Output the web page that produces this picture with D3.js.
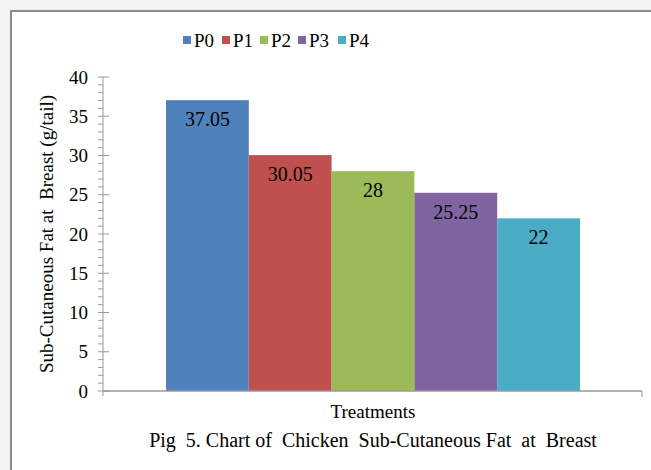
<!DOCTYPE html>
<html><head><meta charset="utf-8">
<script src="https://cdn.jsdelivr.net/npm/d3@7"></script>
<style>body{margin:0;background:#f3f3f3;}svg{display:block;}text{font-family:"Liberation Serif","Times New Roman",serif;fill:#000;}</style>
</head><body>
<svg id="c" width="651" height="470"></svg>
<script>
const categories = ["P0","P1","P2","P3","P4"];
const values = [37.05, 30.05, 28, 25.25, 22];
const valueLabels = ["37.05","30.05","28","25.25","22"];
const colors = ["#4f81bd","#c0504d","#9bbb59","#8064a2","#4bacc6"];
const yTicks = [0,5,10,15,20,25,30,35,40];

const svg = d3.select("#c");
svg.append("rect").attr("x",11).attr("y",11).attr("width",660).attr("height",480)
  .attr("fill","#fff").attr("stroke","#8c8c8c").attr("stroke-width",2);

const x0 = 103, x1 = 642, yTop = 77, yBot = 391;
const y = d3.scaleLinear().domain([0,40]).range([yBot,yTop]);
const band = d3.scaleBand().domain(categories).range([166,580]).paddingInner(0).paddingOuter(0);

// bars
svg.selectAll("rect.bar").data(values).enter().append("rect")
  .attr("class","bar")
  .attr("x",(d,i)=>band(categories[i]))
  .attr("y",d=>y(d))
  .attr("width",band.bandwidth())
  .attr("height",d=>yBot-y(d))
  .attr("fill",(d,i)=>colors[i]);

// value labels
svg.selectAll("text.val").data(values).enter().append("text")
  .attr("class","val")
  .attr("x",(d,i)=>band(categories[i])+band.bandwidth()/2)
  .attr("y",d=>y(d)+26)
  .attr("text-anchor","middle").attr("font-size",20)
  .text((d,i)=>valueLabels[i]);

// y axis minor ticks
const minor = d3.range(0,41,1).filter(v=>v%5!==0);
svg.selectAll("line.minor").data(minor).enter().append("line")
  .attr("x1",x0-5).attr("x2",x0).attr("y1",d=>y(d)).attr("y2",d=>y(d))
  .attr("stroke","#999").attr("stroke-width",1);
// y axis
const ax = svg.append("g").attr("transform",`translate(${x0},0)`)
  .call(d3.axisLeft(y).tickValues(yTicks).tickSize(0).tickPadding(15).tickFormat(d3.format("d")));
ax.select(".domain").remove();
ax.selectAll("text").attr("font-size",19).attr("font-family","Liberation Serif").attr("dy","0.32em");
svg.selectAll("line.major").data(yTicks).enter().append("line")
  .attr("x1",x0-5).attr("x2",x0+6).attr("y1",d=>y(d)).attr("y2",d=>y(d))
  .attr("stroke","#999").attr("stroke-width",1);
svg.append("line").attr("x1",x0).attr("x2",x0).attr("y1",yTop).attr("y2",yBot+5)
  .attr("stroke","#999").attr("stroke-width",1);
// x axis
svg.append("line").attr("x1",x0).attr("x2",x1).attr("y1",yBot).attr("y2",yBot)
  .attr("stroke","#999").attr("stroke-width",1.5);
svg.append("line").attr("x1",x1).attr("x2",x1).attr("y1",yBot).attr("y2",yBot+6)
  .attr("stroke","#999").attr("stroke-width",1);

// legend
const legX = [183,222,260,298,338];
const lg = svg.selectAll("g.leg").data(categories).enter().append("g")
  .attr("transform",(d,i)=>`translate(${legX[i]},40)`);
lg.append("rect").attr("x",0).attr("y",-4).attr("width",8).attr("height",8).attr("fill",(d,i)=>colors[i]);
lg.append("text").attr("x",11).attr("y",7).attr("font-size",19).text(d=>d);

// titles
svg.append("text").attr("transform","translate(53,234) rotate(-90)")
  .attr("text-anchor","middle").attr("font-size",19).attr("xml:space","preserve")
  .text("Sub-Cutaneous Fat at  Breast (g/tail)");
svg.append("text").attr("x",373).attr("y",418).attr("text-anchor","middle").attr("font-size",19)
  .text("Treatments");
svg.append("text").attr("x",373).attr("y",447).attr("text-anchor","middle").attr("font-size",20)
  .attr("xml:space","preserve")
  .text("Pig  5. Chart of  Chicken  Sub-Cutaneous Fat  at  Breast");
</script>
</body></html>
